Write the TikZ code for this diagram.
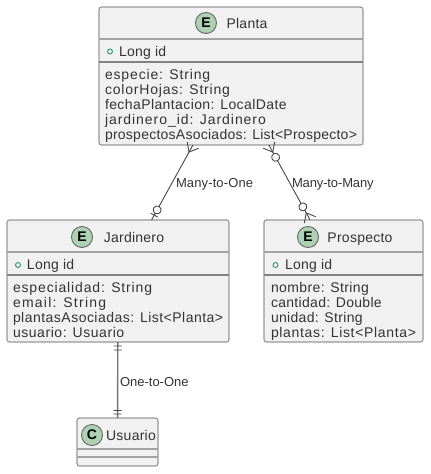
\documentclass[tikz,border=0pt]{standalone}
\usepackage{fontspec}
\setmainfont[LetterSpace=1.8]{Liberation Sans}
\newfontfamily\spotfont{Liberation Sans}
\usetikzlibrary{decorations.markings}
\definecolor{boxfill}{HTML}{F1F1F1}
\definecolor{boxline}{HTML}{999999}
\definecolor{spotfill}{HTML}{ADD1B2}
\definecolor{inkc}{HTML}{333333}
\definecolor{idgreen}{HTML}{2A9A6A}
\tikzset{
  x=1pt,y=-1pt,
  every node/.style={inner sep=0pt,outer sep=0pt,text=inkc,font=\fontsize{14}{16}\selectfont},
  umlbox/.style={draw=boxline,fill=boxfill,line width=1.2pt,rounded corners=2.5pt,minimum width=#1},
  thin rule/.style={draw=boxline!90,line width=1.2pt},
  thick rule/.style={draw=boxline!85!black,line width=1.7pt},
  spot/.style={circle,draw=black!60,fill=spotfill,line width=0.9pt,minimum size=21pt,font=\spotfont\fontsize{14}{16}\bfseries\selectfont,text=black},
  title/.style={anchor=base},
  member/.style={anchor=base west},
  tracked/.style={font=\fontsize{14}{16}\selectfont\addfontfeature{LetterSpace=#1}},
  idmark/.style={circle,draw=idgreen,line width=0.9pt,minimum size=5pt},
  edgelabel/.style={anchor=base west,font=\fontsize{13}{14}\selectfont\addfontfeature{LetterSpace=#1}},
  link/.style={draw=black!72,line width=0.9pt},
  heavy link/.style={draw=black!55,line width=1.4pt},
  crow at start/.style={postaction={decorate,decoration={markings,
    mark=at position 0.1pt with {\draw[link] (8pt,0pt) -- (0pt,6.5pt) (8pt,0pt) -- (0pt,-6.5pt);}}}},
  crow at end/.style={postaction={decorate,decoration={markings,
    mark=at position -0.1pt with {\draw[link] (-8pt,0pt) -- (0pt,6.5pt) (-8pt,0pt) -- (0pt,-6.5pt);}}}},
  ring at start/.style={postaction={decorate,decoration={markings,
    mark=at position #1 with {\draw[link,fill=white] (0pt,0pt) circle (4pt);}}}},
  tick at/.style={postaction={decorate,decoration={markings,
    mark=at position #1 with {\draw[link] (0pt,-4pt) -- (0pt,4pt);}}}},
}
\begin{document}
\begin{tikzpicture}
\useasboundingbox (0,0) rectangle (431,474);
% boxes
\node[umlbox=264pt,minimum height=138pt] (planta) at (231,76) {};
\node[umlbox=222pt,minimum height=122pt] (jardinero) at (118,281) {};
\node[umlbox=159pt,minimum height=122pt] (prospecto) at (343.5,281) {};
\node[umlbox=81pt,minimum height=48pt] (usuario) at (117.5,442) {};
% dividers
\draw[thin rule] (planta.west |- 0,39) -- (planta.east |- 0,39);
\draw[thick rule] (planta.west |- 0,62) -- (planta.east |- 0,62);
\draw[thin rule] (jardinero.west |- 0,252) -- (jardinero.east |- 0,252);
\draw[thick rule] (jardinero.west |- 0,275) -- (jardinero.east |- 0,275);
\draw[thin rule] (prospecto.west |- 0,252) -- (prospecto.east |- 0,252);
\draw[thick rule] (prospecto.west |- 0,275) -- (prospecto.east |- 0,275);
\draw[thin rule] (usuario.west |- 0,449) -- (usuario.east |- 0,449);
\draw[thin rule] (usuario.west |- 0,457) -- (usuario.east |- 0,457);
% headers
\node[spot] (plantaE) at (206,23) {E};
\node[title] (plantaT) at (247,28) {Planta};
\node[spot] (jardE) at (82,237) {E};
\node[title] (jardT) at (134,242) {Jardinero};
\node[spot] (prosE) at (308,237) {E};
\node[title] (prosT) at (360,242) {Prospecto};
\node[spot] (usuC) at (92,435) {C};
\node[title] (usuT) at (131,440) {Usuario};
% id rows
\node[idmark] (plantaO) at (110,51.5) {};
\node[member] (plantaId) at (119,56) {Long id};
\node[idmark] (jardO) at (18,265) {};
\node[member] (jardId) at (27,269) {Long id};
\node[idmark] (prosO) at (275.5,265) {};
\node[member] (prosId) at (285,269) {Long id};
% members
\node[member,tracked=6.1] (p1) at (105,79) {especie: String};
\node[member,tracked=5.8] (p2) at (105,94) {colorHojas: String};
\node[member,tracked=2.9] (p3) at (105,109) {fechaPlantacion: LocalDate};
\node[member,tracked=6.8] (p4) at (105,124) {jardinero\_id: Jardinero};
\node[member] (p5) at (105,139) {prospectosAsociados: List<Prospecto>};
\node[member,tracked=6.1] (j1) at (13,292) {especialidad: String};
\node[member,tracked=8.9] (j2) at (13,307) {email: String};
\node[member,tracked=3.4] (j3) at (13,322) {plantasAsociadas: List<Planta>};
\node[member,tracked=4] (j4) at (13,337) {usuario: Usuario};
\node[member,tracked=2.8] (r1) at (271,292) {nombre: String};
\node[member,tracked=2.2] (r2) at (271,307) {cantidad: Double};
\node[member,tracked=2.3] (r3) at (271,322) {unidad: String};
\node[member,tracked=4.8] (r4) at (271,337) {plantas: List<Planta>};
% connectors
\path[link,draw,crow at start,ring at start={-11.5pt},tick at={-5.5pt}] (planta) -- (jardinero);
\path[link,draw,crow at start,crow at end,ring at start={14pt},ring at start={-15pt}] (planta) -- (prospecto);
\path[heavy link,draw,tick at={4pt},tick at={8pt},tick at={-4pt},tick at={-7.5pt}] (jardinero) -- (usuario);
% connector labels
\node[edgelabel=1] (l1) at (176,187) {Many-to-One};
\node[edgelabel=-1] (l2) at (292,187) {Many-to-Many};
\node[edgelabel=0] (l3) at (120,386) {One-to-One};
\end{tikzpicture}
\end{document}
